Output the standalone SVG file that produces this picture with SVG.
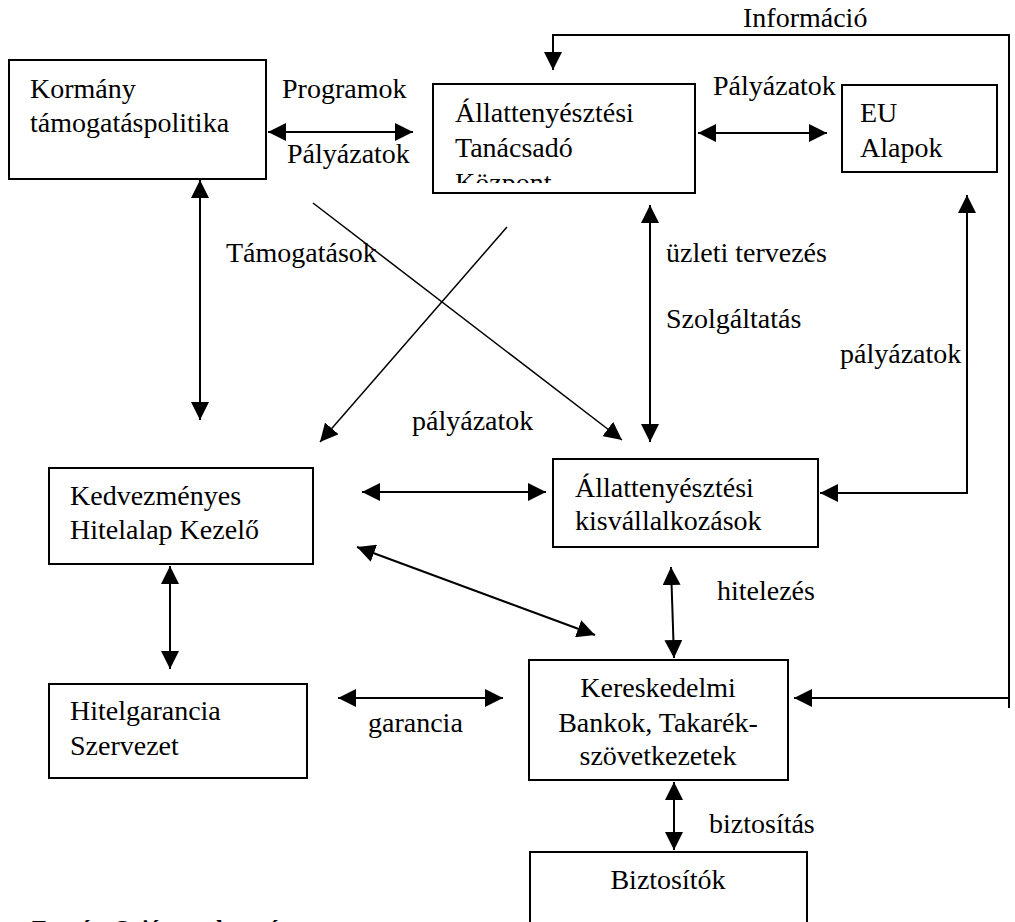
<svg xmlns="http://www.w3.org/2000/svg" width="1015" height="922" viewBox="0 0 1015 922">
<style>
.box{fill:#fff;stroke:#000;stroke-width:2}
.t{font-family:"Liberation Serif","Times New Roman",serif;font-size:28px;fill:#000}
.c{fill:none;stroke:#000;stroke-width:2}
.thin{fill:none;stroke:#000;stroke-width:1.5}
</style>
<defs>
<marker id="ah" viewBox="0 0 18 18" refX="18" refY="9" markerWidth="18" markerHeight="18" markerUnits="userSpaceOnUse" orient="auto-start-reverse">
<path d="M0,0 L18,9 L0,18 z" fill="#000"/>
</marker>
<clipPath id="clipT"><rect x="433" y="84" width="262" height="99"/></clipPath>
</defs>
<rect width="1015" height="922" fill="#fff"/>

<g id="connectors">
<line class="c" x1="268" y1="132" x2="413" y2="132" marker-start="url(#ah)" marker-end="url(#ah)"/>
<line class="c" x1="698" y1="133" x2="827" y2="133" marker-start="url(#ah)" marker-end="url(#ah)"/>
<polyline class="c" points="1009,708 1009,35 553,35 553,70" marker-end="url(#ah)"/>
<polyline class="c" points="1009,698 794,698" marker-end="url(#ah)"/>
<line class="c" x1="200" y1="180" x2="200" y2="420" marker-start="url(#ah)" marker-end="url(#ah)"/>
<line class="thin" x1="313" y1="203" x2="622" y2="440" marker-end="url(#ah)"/>
<line class="thin" x1="507" y1="227" x2="320" y2="442" marker-end="url(#ah)"/>
<line class="c" x1="650" y1="205" x2="650" y2="442" marker-start="url(#ah)" marker-end="url(#ah)"/>
<polyline class="c" points="967,195 967,493 820,493" marker-start="url(#ah)" marker-end="url(#ah)"/>
<line class="c" x1="362" y1="492" x2="546" y2="492" marker-start="url(#ah)" marker-end="url(#ah)"/>
<line class="c" x1="357" y1="547" x2="595" y2="635" marker-start="url(#ah)" marker-end="url(#ah)"/>
<line class="c" x1="170" y1="566" x2="170" y2="669" marker-start="url(#ah)" marker-end="url(#ah)"/>
<line class="c" x1="671" y1="567" x2="674" y2="658" marker-start="url(#ah)" marker-end="url(#ah)"/>
<line class="c" x1="338" y1="698" x2="503" y2="698" marker-start="url(#ah)" marker-end="url(#ah)"/>
<line class="c" x1="674" y1="782" x2="674" y2="850" marker-start="url(#ah)" marker-end="url(#ah)"/>
</g>

<g id="labels">
<text class="t" x="743" y="27">Információ</text>
<text class="t" x="282" y="98">Programok</text>
<text class="t" x="287" y="163">Pályázatok</text>
<text class="t" x="713" y="95">Pályázatok</text>
<text class="t" x="226" y="262">Támogatások</text>
<text class="t" x="666" y="262">üzleti tervezés</text>
<text class="t" x="666" y="328">Szolgáltatás</text>
<text class="t" x="840" y="363">pályázatok</text>
<text class="t" x="412" y="430">pályázatok</text>
<text class="t" x="717" y="600">hitelezés</text>
<text class="t" x="368" y="732">garancia</text>
<text class="t" x="709" y="833">biztosítás</text>
<text class="t" x="32" y="936" style="font-weight:bold;font-size:24px">Forrás: Saját szerkesztés</text>
</g>

<g id="kormany">
<rect class="box" x="9" y="60" width="257" height="119"/>
<text class="t" x="30" y="98">Kormány</text>
<text class="t" x="30" y="132">támogatáspolitika</text>
</g>

<g id="tanacsado">
<rect class="box" x="433" y="84" width="262" height="109"/>
<g clip-path="url(#clipT)">
<text class="t" x="455" y="122">Állattenyésztési</text>
<text class="t" x="455" y="157">Tanácsadó</text>
<text class="t" x="455" y="192">Központ</text>
</g>
</g>

<g id="eu">
<rect class="box" x="842" y="85" width="155" height="87"/>
<text class="t" x="860" y="122">EU</text>
<text class="t" x="860" y="157">Alapok</text>
</g>

<g id="kedvezmenyes">
<rect class="box" x="49" y="468" width="264" height="96"/>
<text class="t" x="70" y="505">Kedvezményes</text>
<text class="t" x="70" y="539">Hitelalap Kezelő</text>
</g>

<g id="kisvallalkozasok">
<rect class="box" x="553" y="459" width="265" height="88"/>
<text class="t" x="575" y="497">Állattenyésztési</text>
<text class="t" x="575" y="530">kisvállalkozások</text>
</g>

<g id="hitelgarancia">
<rect class="box" x="49" y="684" width="258" height="94"/>
<text class="t" x="70" y="720">Hitelgarancia</text>
<text class="t" x="70" y="755">Szervezet</text>
</g>

<g id="bankok">
<rect class="box" x="529" y="660" width="259" height="120"/>
<text class="t" x="658" y="697" text-anchor="middle">Kereskedelmi</text>
<text class="t" x="658" y="732" text-anchor="middle">Bankok, Takarék-</text>
<text class="t" x="658" y="765" text-anchor="middle">szövetkezetek</text>
</g>

<g id="biztositok">
<rect class="box" x="530" y="852" width="277" height="100"/>
<text class="t" x="668" y="889" text-anchor="middle">Biztosítók</text>
</g>
</svg>
